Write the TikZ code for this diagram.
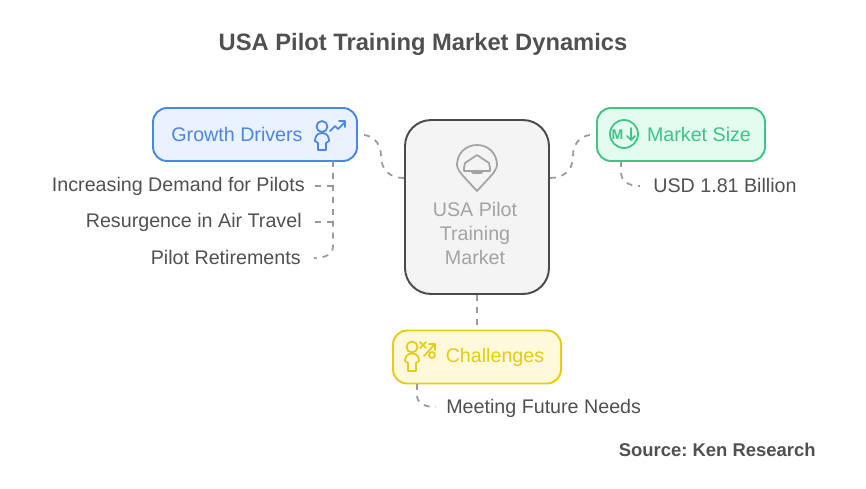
\documentclass[tikz,border=0pt]{standalone}
\usepackage{fontspec}
\setmainfont{Liberation Sans}
\definecolor{textgray}{HTML}{505050}
\definecolor{hubgray}{HTML}{A3A3A3}
\definecolor{hubedge}{HTML}{4A4A4A}
\definecolor{hubfill}{HTML}{F4F4F4}
\definecolor{dashgray}{HTML}{9A9A9A}
\definecolor{driveblue}{HTML}{4A86E8}
\definecolor{drivefill}{HTML}{EBF2FF}
\definecolor{sizegreen}{HTML}{3CC583}
\definecolor{sizefill}{HTML}{E3FCEF}
\definecolor{chalyellow}{HTML}{E6CC12}
\definecolor{chalfill}{HTML}{FEF9DB}
\tikzset{
    headbox/.style={rectangle,draw,line width=1.1pt,rounded corners=0.28cm,minimum height=1.06cm},
    headtext/.style={font=\fontsize{11.2}{13}\selectfont,inner sep=0pt},
    itemtext/.style={font=\fontsize{11.2}{13}\selectfont,text=textgray,inner sep=0pt},
    link/.style={draw=dashgray,line width=1pt,dash pattern=on 3.4pt off 3.4pt},
    iconline/.style={line width=1pt,line join=round,line cap=round}
}
\begin{document}
\begin{tikzpicture}[x=0.02cm,y=-0.02cm]
        \useasboundingbox (0,0) rectangle (866,488);

        \node[font=\bfseries\fontsize{13.5}{16}\selectfont,text=textgray,inner sep=0pt] (Title) at (423,44) {USA Pilot Training Market Dynamics};
        \node[anchor=east,font=\bfseries\fontsize{10.5}{13}\selectfont,text=textgray,inner sep=0pt] (Source) at (816,450) {Source:\ Ken Research};

        % boxes
        \node[rectangle,draw=hubedge,fill=hubfill,line width=1.1pt,rounded corners=0.52cm,minimum width=2.88cm,minimum height=3.48cm] (Hub) at (477,207) {};
        \node[headbox,draw=driveblue,fill=drivefill,minimum width=4.08cm] (Growth) at (255,134.5) {};
        \node[headbox,draw=sizegreen,fill=sizefill,minimum width=3.36cm] (Size) at (681,134.5) {};
        \node[headbox,draw=chalyellow,fill=chalfill,minimum width=3.36cm] (Chal) at (477,357) {};

        % labels
        \node[font=\fontsize{11.2}{13.6}\selectfont,text=hubgray,align=center,inner sep=0pt] (HubText) at (475,233.5) {USA Pilot\\Training\\Market};
        \node[headtext,text=driveblue] (GrowthText) at (237,134) {Growth Drivers};
        \node[headtext,text=sizegreen] (SizeText) at (699,134) {Market Size};
        \node[headtext,text=chalyellow] (ChalText) at (495,357) {Challenges};

        \node[itemtext,anchor=east] (Demand) at (305,186) {Increasing Demand for Pilots};
        \node[itemtext,anchor=east] (Travel) at (302,222) {Resurgence in Air Travel};
        \node[itemtext,anchor=east] (Retire) at (301,257.5) {Pilot Retirements};
        \node[itemtext,anchor=west] (Usd) at (653,185.5) {USD 1.81 Billion};
        \node[itemtext,anchor=west] (Needs) at (446,408) {Meeting Future Needs};

        % free ends of the links
        \coordinate (HubL) at (Hub.west |- 0,178);
        \coordinate (HubR) at (Hub.east |- 0,178);
        \coordinate (GrowthS) at (333,161);
        \coordinate (SizeS) at (621,161);
        \coordinate (ChalS) at (417,384);
        \coordinate (TrunkD) at (333,186);
        \coordinate (TrunkT) at (333,222);
        \coordinate (EndD) at (315,186);
        \coordinate (EndT) at (315,222);
        \coordinate (EndR) at (314,258);
        \coordinate (EndU) at (640,186);
        \coordinate (EndN) at (436,407);

        \draw[link] (HubL) .. controls (390,178) and (381,170) .. (381,156) .. controls (381,142) and (372,134) .. (Growth.east);
        \draw[link] (HubR) .. controls (564,178) and (573,170) .. (573,156) .. controls (573,142) and (582,134) .. (Size.west);
        \draw[link] (Hub.south) -- (Chal.north);
        \draw[link] (GrowthS) -- (333,246) .. controls (333,254) and (326,258) .. (EndR);
        \draw[link] (TrunkD) -- (EndD);
        \draw[link] (TrunkT) -- (EndT);
        \draw[link] (SizeS) -- (621,172) .. controls (621,181) and (628,186) .. (EndU);
        \draw[link] (ChalS) -- (417,395) .. controls (417,403) and (424,407) .. (EndN);

        % growth icon
        \begin{scope}[iconline,draw=driveblue]
            \draw (322,126.5) circle (5.5);
            \draw (322,133) .. controls (316,133) and (315,138) .. (315,141) -- (318,143) -- (318,150) -- (326,150) -- (326,143) -- (329,141) .. controls (329,138) and (328,133) .. (322,133);
            \draw (330,131) -- (335,126) -- (338,129) -- (345,122);
            \draw (339,121) -- (345,121) -- (345,127);
        \end{scope}

        % size icon
        \draw[iconline,draw=sizegreen] (624,134) circle (14);
        \node[font=\bfseries\fontsize{8}{9}\selectfont,text=sizegreen,inner sep=0pt] (SizeM) at (617.5,134.5) {M};
        \draw[iconline,draw=sizegreen] (631,128) -- (631,140) (627,136) -- (631,140) -- (635,136);

        % challenges icon
        \begin{scope}[iconline,draw=chalyellow]
            \draw (412,347) circle (5.5);
            \draw (412,353.5) .. controls (406,353.5) and (405,358) .. (405,361) -- (408,363) -- (408,371) -- (416,371) -- (416,363) -- (419,361) .. controls (419,358) and (418,353.5) .. (412,353.5);
            \draw (420,342) -- (426,348) (426,342) -- (420,348);
            \draw (424,356) -- (434,345);
            \draw (429,344) -- (435,344) -- (435,350);
            \draw (432,355) circle (3);
        \end{scope}

        % hub icon
        \begin{scope}[iconline,draw=hubgray]
            \draw (477,191) -- (465,178) .. controls (460,173) and (457,168) .. (457,165) .. controls (457,153) and (466,145) .. (477,145) .. controls (488,145) and (497,153) .. (497,165) .. controls (497,168) and (494,173) .. (489,178) -- cycle;
            \draw (477,155) -- (465,163) -- (464,168) -- (464,171) -- (490,171) -- (490,168) -- (489,163) -- cycle;
            \draw (471,171) -- (473,173) -- (481,173) -- (483,171);
        \end{scope}

    \end{tikzpicture}
\end{document}
